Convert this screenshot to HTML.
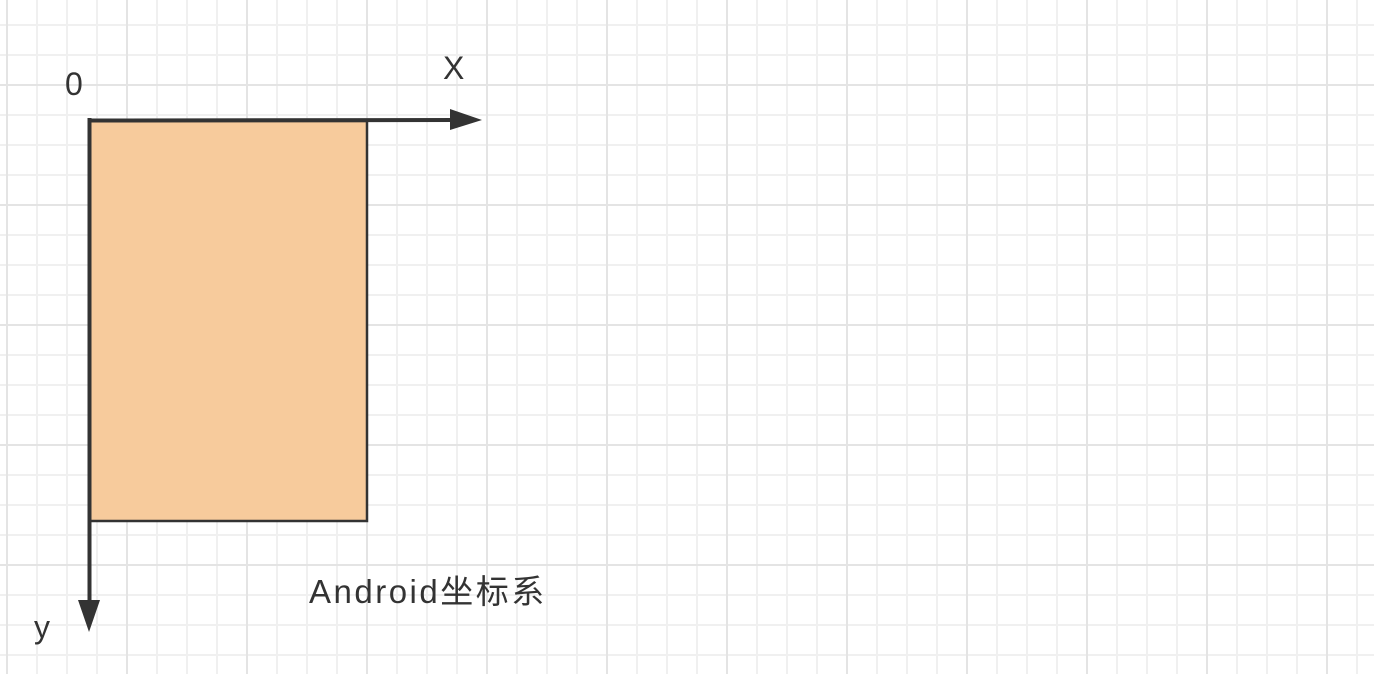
<!DOCTYPE html>
<html><head><meta charset="utf-8"><style>
html,body{margin:0;padding:0;background:#fff;}
body{width:1374px;height:674px;overflow:hidden;position:relative;
background-image:
linear-gradient(to right,#e4e4e4 2px,transparent 2px),
linear-gradient(to bottom,#e4e4e4 2px,transparent 2px),
linear-gradient(to right,#f0f0f0 2px,transparent 2px),
linear-gradient(to bottom,#f0f0f0 2px,transparent 2px);
background-size:120px 120px,120px 120px,30px 30px,30px 30px;
background-position:126px 0,0 84px,6px 0,0 24px;}
.t{position:absolute;font-family:"Liberation Sans","Noto Sans CJK SC",sans-serif;color:#333;font-size:32px;line-height:1;white-space:nowrap;}
</style></head><body>
<svg width="1374" height="674" style="position:absolute;left:0;top:0">
<rect x="89" y="121" width="278" height="400" fill="#f7cb9c" stroke="#333" stroke-width="2.5"/>
<line x1="88" y1="120.5" x2="455" y2="120" stroke="#333" stroke-width="4"/>
<line x1="367" y1="120" x2="455" y2="120" stroke="#333" stroke-width="3"/>
<polygon points="450,109 482,120 450,130" fill="#333"/>
<line x1="89.5" y1="118" x2="89.5" y2="605" stroke="#333" stroke-width="4"/>
<line x1="89.5" y1="521" x2="89.5" y2="605" stroke="#333" stroke-width="3"/>
<polygon points="78,600 89,632 100,600" fill="#333"/>
</svg>
<div class="t" style="left:65px;top:68px;">0</div>
<div class="t" style="left:443px;top:52px;">X</div>
<div class="t" style="left:34px;top:611px;">y</div>
<div class="t" style="left:309px;top:575px;font-size:33px;letter-spacing:2.5px;">Android坐标系</div>
</body></html>
